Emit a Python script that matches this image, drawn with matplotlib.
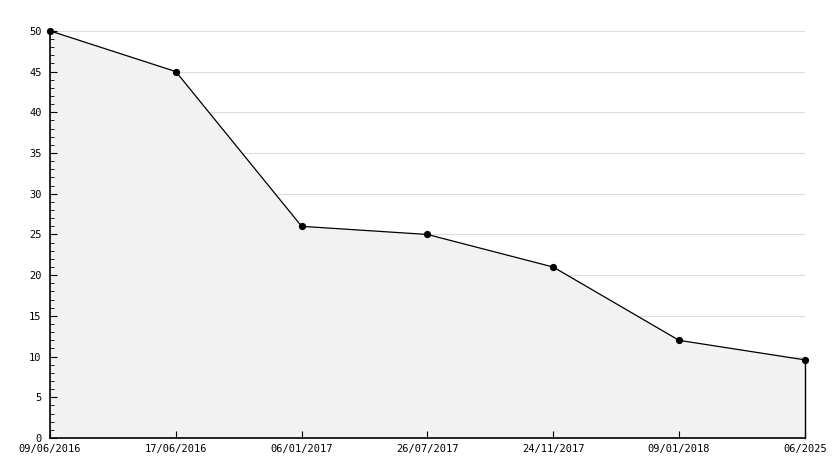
import matplotlib
matplotlib.use("Agg")
import matplotlib.pyplot as plt
from matplotlib.ticker import MultipleLocator

dates = ["09/06/2016", "17/06/2016", "06/01/2017", "26/07/2017",
         "24/11/2017", "09/01/2018", "06/2025"]
values = [50, 45, 26, 25, 21, 12, 9.6]

plt.rcParams['font.family'] = ['DejaVu Sans Mono']

fig = plt.figure(figsize=(8.34, 4.68), dpi=100)
ax = fig.add_axes([0.06, 0.064, 0.905, 0.87])

x = list(range(len(values)))

# horizontal grid lines behind the filled area
for y in range(5, 51, 5):
    ax.axhline(y, color="#dcdcdc", linewidth=0.8, zorder=0)

ax.fill_between(x, values, 0, color="#f2f2f2", zorder=1)
ax.plot(x, values, color="black", linewidth=0.9, zorder=3, clip_on=False)
ax.plot([x[-1], x[-1]], [0, values[-1]], color="black", linewidth=1.0,
        zorder=3, clip_on=False)
ax.plot(x, values, linestyle="none", marker="o", markersize=4.2,
        color="black", zorder=4, clip_on=False)

ax.set_xlim(0, len(values) - 1)
ax.set_ylim(0, 50)
ax.set_xticks(x)
ax.set_xticklabels(dates)
ax.yaxis.set_major_locator(MultipleLocator(5))
ax.yaxis.set_minor_locator(MultipleLocator(1))

for s in ["top", "right"]:
    ax.spines[s].set_visible(False)
ax.spines["left"].set_linewidth(1.2)
ax.spines["bottom"].set_linewidth(1.2)

ax.tick_params(axis="y", which="major", direction="in", length=5, labelsize=7.5, pad=6)
ax.tick_params(axis="y", which="minor", direction="in", length=3)
ax.tick_params(axis="x", direction="in", length=5, labelsize=7.5, pad=4)

fig.savefig("out.png", dpi=100)
